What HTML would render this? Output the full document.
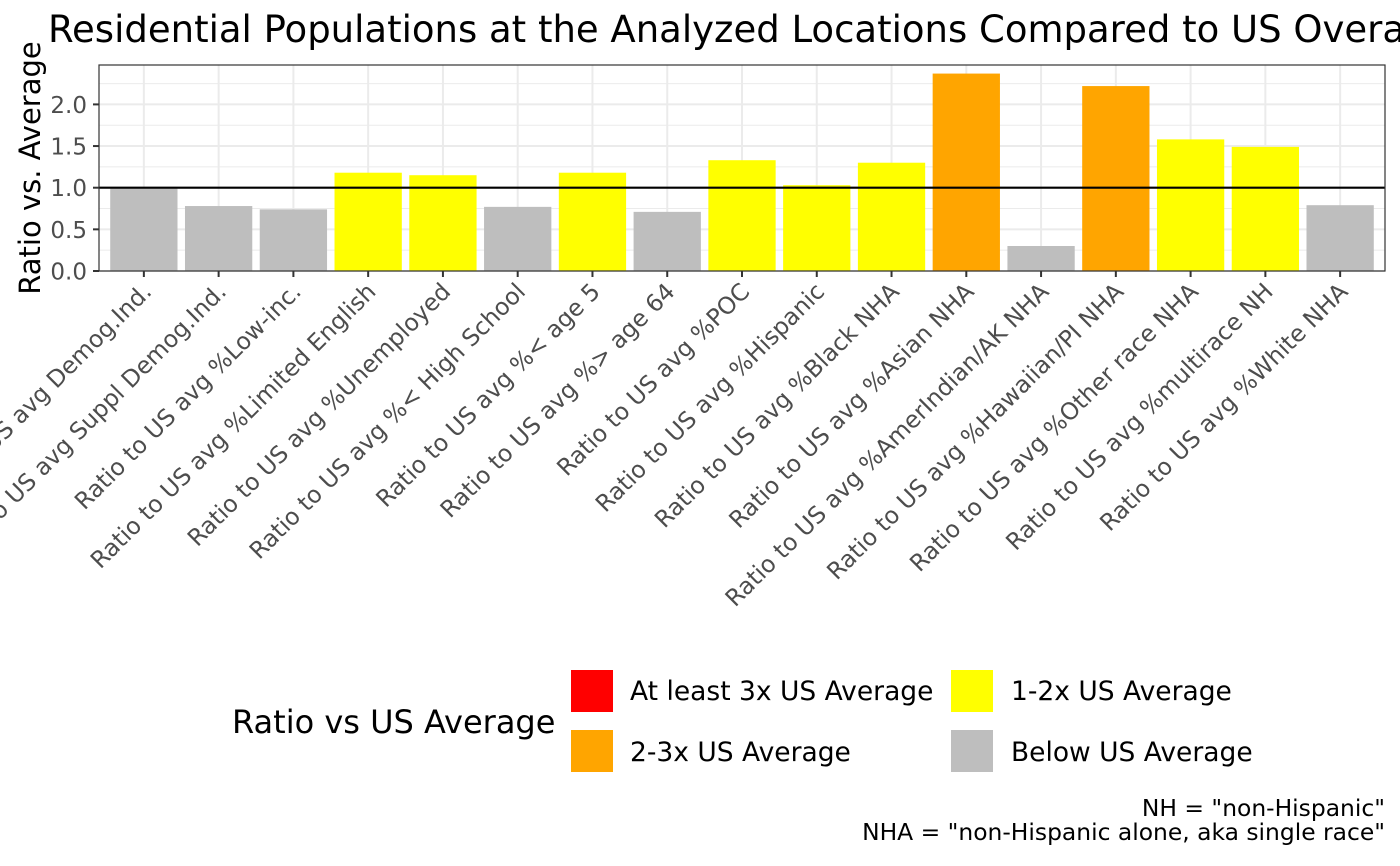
<!DOCTYPE html>
<html><head><meta charset="utf-8"><style>
body{margin:0;background:#fff;}
svg{display:block;font-family:"DejaVu Sans","Liberation Sans",sans-serif;}
</style></head><body>
<svg id="chart" width="1400" height="866" viewBox="0 0 1400 866">
<text x="48" y="42" font-size="37" fill="#000">Residential Populations at the Analyzed Locations Compared to US Overall</text>
<g id="plot"></g>
<text transform="translate(40,168) rotate(-90)" text-anchor="middle" font-size="29" fill="#000">Ratio vs. Average</text>
<g>
<text x="232" y="733" font-size="32" fill="#000">Ratio vs US Average</text>
<rect x="571" y="670" width="42" height="42" fill="#ff0000"/>
<text x="630" y="700" font-size="26.5">At least 3x US Average</text>
<rect x="571" y="730" width="42" height="42" fill="#ffa500"/>
<text x="630" y="761" font-size="26.5">2-3x US Average</text>
<rect x="951" y="670" width="42" height="42" fill="#ffff00"/>
<text x="1011" y="700" font-size="26.5">1-2x US Average</text>
<rect x="951" y="730" width="42" height="42" fill="#bebebe"/>
<text x="1011" y="761" font-size="26.5">Below US Average</text>
</g>
<text x="1385" y="816" text-anchor="end" font-size="23.4">NH = "non-Hispanic"</text>
<text x="1385" y="840" text-anchor="end" font-size="23.4">NHA = "non-Hispanic alone, aka single race"</text>
</svg>
<script>
const categories=["Ratio to US avg Demog.Ind.","Ratio to US avg Suppl Demog.Ind.","Ratio to US avg %Low-inc.","Ratio to US avg %Limited English","Ratio to US avg %Unemployed","Ratio to US avg %< High School","Ratio to US avg %< age 5","Ratio to US avg %> age 64","Ratio to US avg %POC","Ratio to US avg %Hispanic","Ratio to US avg %Black NHA","Ratio to US avg %Asian NHA","Ratio to US avg %AmerIndian/AK NHA","Ratio to US avg %Hawaiian/PI NHA","Ratio to US avg %Other race NHA","Ratio to US avg %multirace NH","Ratio to US avg %White NHA"];
const values=[0.99,0.78,0.74,1.18,1.15,0.77,1.18,0.71,1.33,1.03,1.30,2.37,0.30,2.22,1.58,1.49,0.79];
const yTicks=[0,0.5,1.0,1.5,2.0];
const yTickLabels=["0.0","0.5","1.0","1.5","2.0"];
const refLine=1.0;

const NS="http://www.w3.org/2000/svg";
const L=99,R=1385,T=65,B=271;
const yMin=0,yMax=(B-T)/83.3;
function y(v){return B-(v-yMin)/(yMax-yMin)*(B-T);}
const n=categories.length,unit=(R-L)/(n-1+1.2);
function x(i){return L+(0.6+i)*unit;}
function color(v){return v>=3?"#ff0000":v>=2?"#ffa500":v>=1?"#ffff00":"#bebebe";}
const g=document.getElementById("plot");
function mk(tag,attrs,parent){const e=document.createElementNS(NS,tag);for(const k in attrs)e.setAttribute(k,attrs[k]);(parent||g).appendChild(e);return e;}
let e;
e=mk("rect",{x:L,y:T,width:R-L,height:B-T,fill:"#fff"});


for(let i=0;i<yTicks.length-1;i++){const m=(yTicks[i]+yTicks[i+1])/2;
e=mk("line",{x1:L,x2:R,y1:y(m),y2:y(m),stroke:"#ebebeb","stroke-width":1});

}
e=mk("line",{x1:L,x2:R,y1:y(2.25),y2:y(2.25),stroke:"#ebebeb","stroke-width":1});


yTicks.forEach((t,i)=>{
e=mk("line",{x1:L,x2:R,y1:y(t),y2:y(t),stroke:"#ebebeb","stroke-width":2});


e=mk("line",{x1:L-6,x2:L,y1:y(t),y2:y(t),stroke:"#333","stroke-width":2});


e=mk("text",{x:L-12,y:y(t)+8.5,"text-anchor":"end","font-size":23,fill:"#4d4d4d"});
e.textContent=yTickLabels[i];


});
categories.forEach((c,i)=>{
e=mk("line",{x1:x(i),x2:x(i),y1:T,y2:B,stroke:"#ebebeb","stroke-width":2});


});
values.forEach((v,i)=>{
const w=0.9*unit;
e=mk("rect",{x:x(i)-w/2,y:y(v),width:w,height:y(0)-y(v),fill:color(v)});


});
e=mk("line",{x1:L,x2:R,y1:y(refLine),y2:y(refLine),stroke:"#000","stroke-width":2.2});


e=mk("rect",{x:L,y:T,width:R-L,height:B-T,fill:"none",stroke:"#333","stroke-width":1.2});


categories.forEach((c,i)=>{
e=mk("line",{x1:x(i),x2:x(i),y1:B,y2:B+6,stroke:"#333","stroke-width":2});


e=mk("text",{transform:`translate(${x(i)+9},${B+22}) rotate(-45)`,"text-anchor":"end","font-size":23.5,fill:"#4d4d4d"});
e.textContent=c;


});
</script>
</body></html>
